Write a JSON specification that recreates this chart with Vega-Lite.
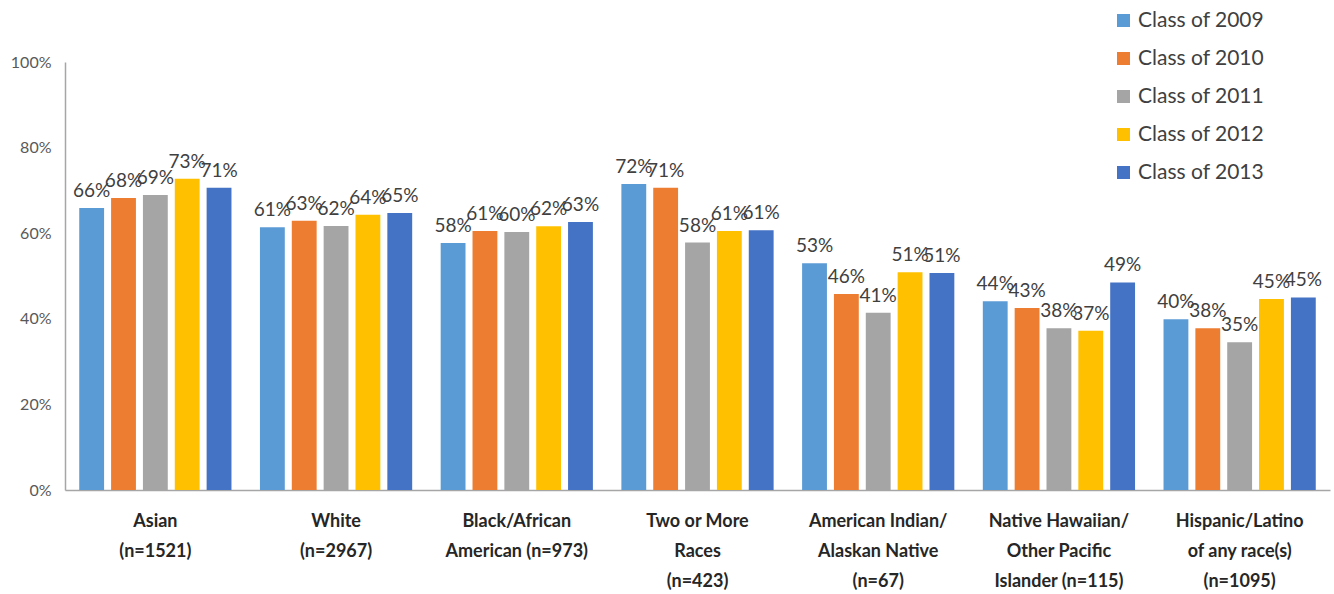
{
  "$schema": "https://vega.github.io/schema/vega-lite/v6.json",
  "width": 1265,
  "height": 428,
  "autosize": {"type": "none"},
  "padding": {"left": 65, "top": 62, "right": 4, "bottom": 104},
  "background": "white",
  "config": {"view": {"stroke": null}, "font": "Lato"},
  "data": {
    "values": [
      {"group": "Asian|(n=1521)", "cls": "Class of 2009", "v": 0.659},
      {"group": "Asian|(n=1521)", "cls": "Class of 2010", "v": 0.682},
      {"group": "Asian|(n=1521)", "cls": "Class of 2011", "v": 0.689},
      {"group": "Asian|(n=1521)", "cls": "Class of 2012", "v": 0.727},
      {"group": "Asian|(n=1521)", "cls": "Class of 2013", "v": 0.706},
      {"group": "White|(n=2967)", "cls": "Class of 2009", "v": 0.614},
      {"group": "White|(n=2967)", "cls": "Class of 2010", "v": 0.629},
      {"group": "White|(n=2967)", "cls": "Class of 2011", "v": 0.617},
      {"group": "White|(n=2967)", "cls": "Class of 2012", "v": 0.643},
      {"group": "White|(n=2967)", "cls": "Class of 2013", "v": 0.647},
      {"group": "Black/African|American (n=973)", "cls": "Class of 2009", "v": 0.577},
      {"group": "Black/African|American (n=973)", "cls": "Class of 2010", "v": 0.605},
      {"group": "Black/African|American (n=973)", "cls": "Class of 2011", "v": 0.603},
      {"group": "Black/African|American (n=973)", "cls": "Class of 2012", "v": 0.616},
      {"group": "Black/African|American (n=973)", "cls": "Class of 2013", "v": 0.626},
      {"group": "Two or More|Races|(n=423)", "cls": "Class of 2009", "v": 0.715},
      {"group": "Two or More|Races|(n=423)", "cls": "Class of 2010", "v": 0.706},
      {"group": "Two or More|Races|(n=423)", "cls": "Class of 2011", "v": 0.578},
      {"group": "Two or More|Races|(n=423)", "cls": "Class of 2012", "v": 0.605},
      {"group": "Two or More|Races|(n=423)", "cls": "Class of 2013", "v": 0.607},
      {"group": "American Indian/|Alaskan Native|(n=67)", "cls": "Class of 2009", "v": 0.53},
      {"group": "American Indian/|Alaskan Native|(n=67)", "cls": "Class of 2010", "v": 0.458},
      {"group": "American Indian/|Alaskan Native|(n=67)", "cls": "Class of 2011", "v": 0.414},
      {"group": "American Indian/|Alaskan Native|(n=67)", "cls": "Class of 2012", "v": 0.509},
      {"group": "American Indian/|Alaskan Native|(n=67)", "cls": "Class of 2013", "v": 0.507},
      {"group": "Native Hawaiian/|Other Pacific|Islander (n=115)", "cls": "Class of 2009", "v": 0.441},
      {"group": "Native Hawaiian/|Other Pacific|Islander (n=115)", "cls": "Class of 2010", "v": 0.425},
      {"group": "Native Hawaiian/|Other Pacific|Islander (n=115)", "cls": "Class of 2011", "v": 0.378},
      {"group": "Native Hawaiian/|Other Pacific|Islander (n=115)", "cls": "Class of 2012", "v": 0.372},
      {"group": "Native Hawaiian/|Other Pacific|Islander (n=115)", "cls": "Class of 2013", "v": 0.485},
      {"group": "Hispanic/Latino|of any race(s)|(n=1095)", "cls": "Class of 2009", "v": 0.399},
      {"group": "Hispanic/Latino|of any race(s)|(n=1095)", "cls": "Class of 2010", "v": 0.378},
      {"group": "Hispanic/Latino|of any race(s)|(n=1095)", "cls": "Class of 2011", "v": 0.345},
      {"group": "Hispanic/Latino|of any race(s)|(n=1095)", "cls": "Class of 2012", "v": 0.446},
      {"group": "Hispanic/Latino|of any race(s)|(n=1095)", "cls": "Class of 2013", "v": 0.45}
    ]
  },
  "encoding": {
    "x": {
      "field": "group",
      "type": "nominal",
      "sort": null,
      "scale": {"paddingInner": 0.14, "paddingOuter": 0.07},
      "axis": {
        "title": null,
        "labelAngle": 0,
        "labelExpr": "split(datum.label, '|')",
        "labelFont": "Lato",
        "labelFontSize": 18,
        "labelFontWeight": "bold",
        "labelColor": "#262626",
        "labelLineHeight": 30,
        "labelPadding": 22,
        "labelLimit": 300,
        "ticks": false,
        "domainColor": "#a6a6a6",
        "domainWidth": 1.5
      }
    },
    "xOffset": {
      "field": "cls",
      "type": "nominal",
      "scale": {"paddingInner": 0.22, "paddingOuter": 0.05}
    },
    "y": {
      "field": "v",
      "type": "quantitative",
      "scale": {"domain": [0, 1], "nice": false},
      "axis": {
        "title": null,
        "format": ".0%",
        "values": [0, 0.2, 0.4, 0.6, 0.8, 1],
        "grid": false,
        "ticks": false,
        "labelFont": "Lato",
        "labelFontSize": 16,
        "labelColor": "#595959",
        "labelPadding": 14,
        "domainColor": "#a6a6a6",
        "domainWidth": 1.5
      }
    }
  },
  "layer": [
    {
      "mark": {"type": "bar"},
      "encoding": {
        "color": {
          "field": "cls",
          "type": "nominal",
          "scale": {
            "domain": ["Class of 2009", "Class of 2010", "Class of 2011", "Class of 2012", "Class of 2013"],
            "range": ["#5B9BD5", "#ED7D31", "#A5A5A5", "#FFC000", "#4472C4"]
          },
          "legend": {
            "title": null,
            "orient": "none",
            "legendX": 1048,
            "legendY": -52,
            "symbolType": "square",
            "symbolSize": 170,
            "symbolStrokeWidth": 0,
            "labelFont": "Lato",
            "labelFontSize": 21,
            "labelColor": "#404040",
            "labelOffset": 4,
            "rowPadding": 16
          }
        }
      }
    },
    {
      "mark": {"type": "text", "baseline": "bottom", "dy": -7, "fontSize": 19, "color": "#404040", "font": "Lato"},
      "encoding": {
        "text": {"field": "v", "type": "quantitative", "format": ".0%"}
      }
    }
  ]
}
